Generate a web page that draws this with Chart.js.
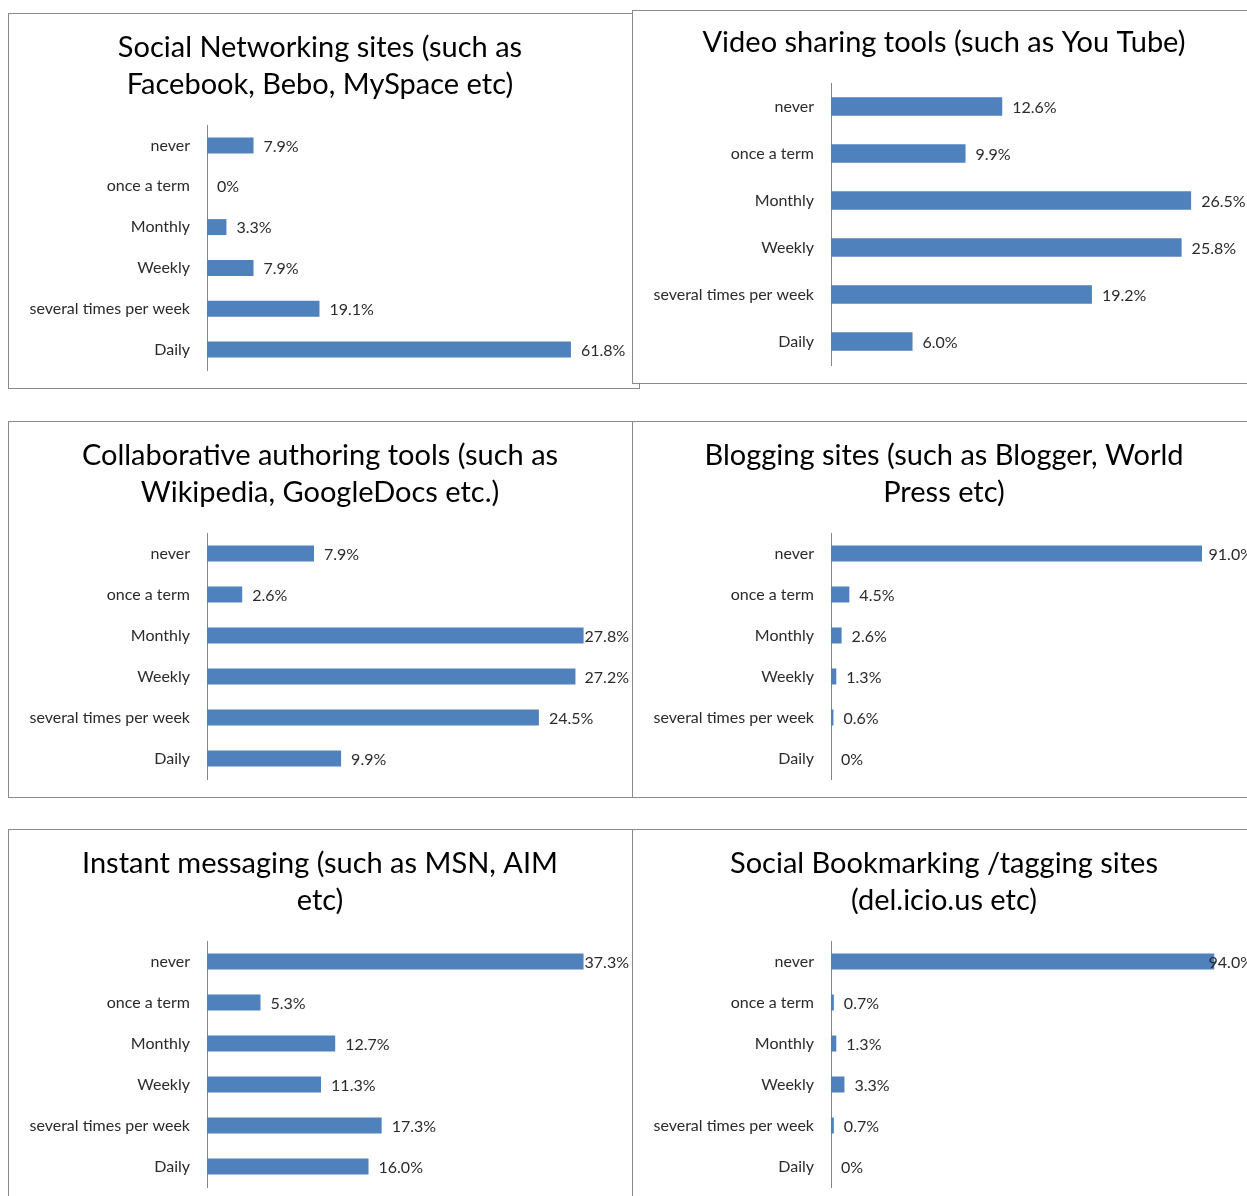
<!DOCTYPE html>
<html lang="en">
<head>
    <meta charset="UTF-8">
    <title>Web 2.0 tool usage</title>
    <script src="https://cdn.jsdelivr.net/npm/chart.js"></script>
    <style>
        html, body {
            margin: 0;
            padding: 0;
            background: #ffffff;
            overflow: hidden;
            width: 1247px;
            height: 1196px;
        }

        .panel {
            position: absolute;
            box-sizing: border-box;
            border: 1px solid #8a8a8a;
            background: #ffffff;
        }

        .plot {
            position: absolute;
            left: 0;
            top: 0;
            width: 624px;
        }
    </style>
</head>
<body>
    <div class="panel" style="left:8px; top:13px; width:632px; height:376px;">
        <div class="plot" style="height:372px;"><canvas id="chart1"></canvas></div>
    </div>
    <div class="panel" style="left:632px; top:10px; width:624px; height:374px;">
        <div class="plot" style="height:372px;"><canvas id="chart2"></canvas></div>
    </div>
    <div class="panel" style="left:8px; top:421px; width:625px; height:377px;">
        <div class="plot" style="height:375px;"><canvas id="chart3"></canvas></div>
    </div>
    <div class="panel" style="left:632px; top:421px; width:624px; height:377px;">
        <div class="plot" style="height:375px;"><canvas id="chart4"></canvas></div>
    </div>
    <div class="panel" style="left:8px; top:829px; width:625px; height:380px;">
        <div class="plot" style="height:375px;"><canvas id="chart5"></canvas></div>
    </div>
    <div class="panel" style="left:632px; top:829px; width:624px; height:380px;">
        <div class="plot" style="height:375px;"><canvas id="chart6"></canvas></div>
    </div>

    <script>
        // frequency categories (same for every chart)
        const categories = ['never', 'once a term', 'Monthly', 'Weekly', 'several times per week', 'Daily'];

        // percentages
        const socialNetworking = [7.9, 0, 3.3, 7.9, 19.1, 61.8];
        const videoSharing = [12.6, 9.9, 26.5, 25.8, 19.2, 6.0];
        const collaborativeAuthoring = [7.9, 2.6, 27.8, 27.2, 24.5, 9.9];
        const blogging = [91.0, 4.5, 2.6, 1.3, 0.6, 0];
        const instantMessaging = [37.3, 5.3, 12.7, 11.3, 17.3, 16.0];
        const socialBookmarking = [94.0, 0.7, 1.3, 3.3, 0.7, 0];

        const socialNetworkingTitle = ['Social Networking sites (such as', 'Facebook, Bebo, MySpace etc)'];
        const videoSharingTitle = ['Video sharing tools (such as You Tube)'];
        const collaborativeTitle = ['Collaborative authoring tools (such as', 'Wikipedia, GoogleDocs etc.)'];
        const bloggingTitle = ['Blogging sites (such as Blogger, World', 'Press etc)'];
        const messagingTitle = ['Instant messaging (such as MSN, AIM', 'etc)'];
        const bookmarkingTitle = ['Social Bookmarking /tagging sites', '(del.icio.us etc)'];

        const BAR_COLOR = '#4f81bd';
        const TEXT_COLOR = '#2b2b2b';
        const FONT = 'Lato, "Open Sans", sans-serif';

        function formatPct(v) {
            return v === 0 ? '0%' : v.toFixed(1) + '%';
        }

        // draws the value label to the right of each bar, pushed back in if it would run off the edge
        const valueLabels = {
            id: 'valueLabels',
            afterDatasetsDraw(chart) {
                const ctx = chart.ctx;
                const meta = chart.getDatasetMeta(0);
                const values = chart.data.datasets[0].data;
                ctx.save();
                ctx.font = '16px ' + FONT;
                ctx.fillStyle = TEXT_COLOR;
                ctx.textBaseline = 'middle';
                ctx.textAlign = 'left';
                const limit = chart.width - 4;
                meta.data.forEach((bar, i) => {
                    const text = formatPct(values[i]);
                    const w = ctx.measureText(text).width;
                    let x = bar.x + 10;
                    if (x + w > limit) {
                        x = limit - w;
                    }
                    ctx.fillText(text, x, bar.y + 1);
                });
                ctx.restore();
            }
        };

        function makeChart(id, title, values, xMax, padTop, padBottom) {
            return new Chart(document.getElementById(id), {
                type: 'bar',
                data: {
                    labels: categories,
                    datasets: [{
                        data: values,
                        backgroundColor: BAR_COLOR,
                        borderWidth: 0,
                        barPercentage: 0.39,
                        categoryPercentage: 1
                    }]
                },
                options: {
                    indexAxis: 'y',
                    responsive: true,
                    maintainAspectRatio: false,
                    animation: false,
                    layout: {
                        padding: { left: 0, right: 2, top: 0, bottom: padBottom }
                    },
                    plugins: {
                        legend: { display: false },
                        tooltip: { enabled: false },
                        title: {
                            display: true,
                            text: title,
                            color: '#000000',
                            font: { family: FONT, size: 29, weight: 'normal', lineHeight: '37px' },
                            padding: { top: padTop, bottom: 21.5 }
                        }
                    },
                    scales: {
                        x: {
                            display: false,
                            min: 0,
                            max: xMax
                        },
                        y: {
                            grid: { display: false, drawTicks: false },
                            border: { display: true, color: '#868686', width: 1 },
                            ticks: {
                                color: TEXT_COLOR,
                                font: { family: FONT, size: 16 },
                                padding: 17
                            },
                            afterFit(scale) {
                                scale.width = 198;
                                scale.paddingTop = 0;
                                scale.paddingBottom = 0;
                            }
                        }
                    }
                },
                plugins: [valueLabels]
            });
        }

        makeChart('chart1', socialNetworkingTitle, socialNetworking, 72, 15.5, 16);
        makeChart('chart2', videoSharingTitle, videoSharing, 31.2, 13.5, 18);
        makeChart('chart3', collaborativeTitle, collaborativeAuthoring, 31.3, 15.5, 18);
        makeChart('chart4', bloggingTitle, blogging, 104, 15.5, 18);
        makeChart('chart5', messagingTitle, instantMessaging, 42, 15.5, 18);
        makeChart('chart6', bookmarkingTitle, socialBookmarking, 104, 15.5, 18);
    </script>
</body>
</html>
